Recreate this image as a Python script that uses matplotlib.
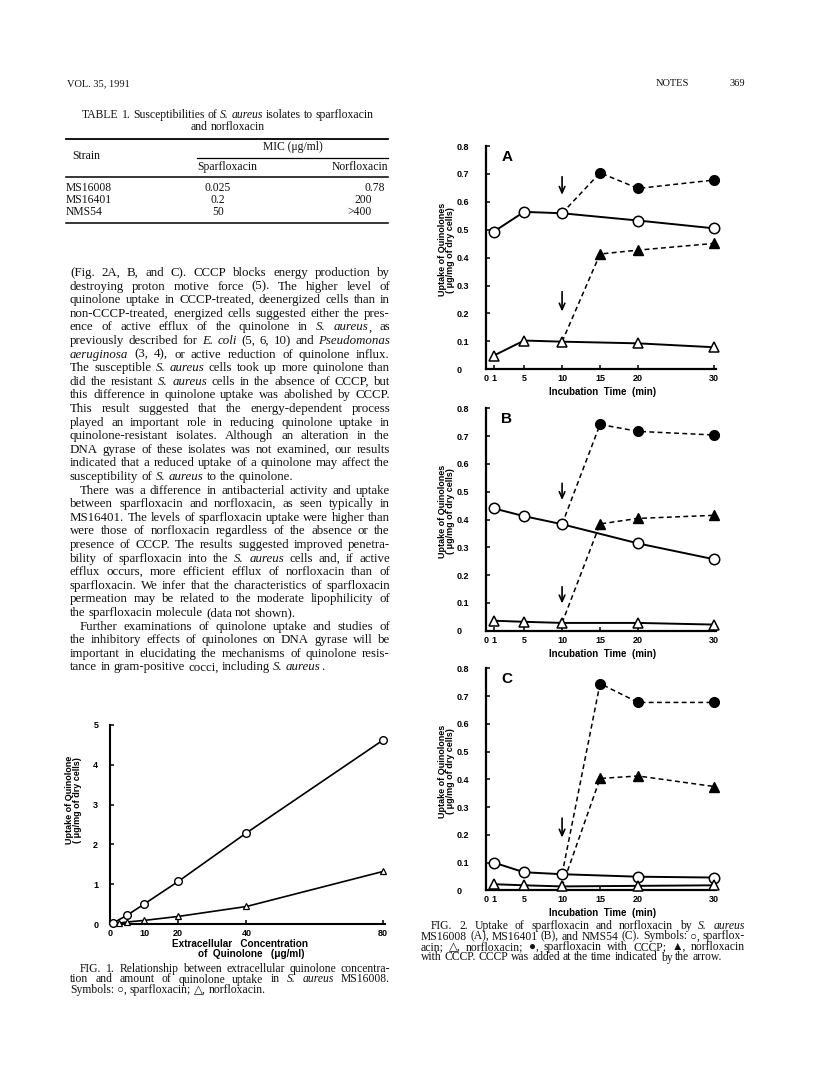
import matplotlib
matplotlib.use('Agg')
import matplotlib.pyplot as plt
from matplotlib.lines import Line2D

# ------------------------------------------------------------------ data
fig1_spar_x = [1, 5, 10, 20, 40, 80]
fig1_spar_y = [0.03, 0.22, 0.50, 1.07, 2.29, 4.62]
fig1_norf_x = [2.5, 5, 10, 20, 40, 80]
fig1_norf_y = [0.02, 0.05, 0.09, 0.19, 0.44, 1.32]
fig1_xticks = [0, 10, 20, 40, 80]
fig1_yticks = [0, 1, 2, 3, 4, 5]

time_min = [1, 5, 10, 20, 30]
cccp_time = [10, 15, 20, 30]
fig2_xticks = [0, 1, 5, 10, 15, 20, 30]
fig2_yticks = [0, 0.1, 0.2, 0.3, 0.4, 0.5, 0.6, 0.7, 0.8]
fig2_yticklabels = ['0', '0.1', '0.2', '0.3', '0.4', '0.5', '0.6', '0.7', '0.8']

A_spar = [0.493, 0.564, 0.559, 0.533, 0.505]
A_norf = [0.049, 0.103, 0.099, 0.093, 0.079]
A_spar_cccp = [0.559, 0.704, 0.648, 0.678]
A_norf_cccp = [0.099, 0.413, 0.427, 0.451]
A_arrows = [(0.69, 0.625), (0.278, 0.207)]

B_spar = [0.440, 0.412, 0.383, 0.314, 0.257]
B_norf = [0.036, 0.032, 0.028, 0.028, 0.022]
B_spar_cccp = [0.383, 0.742, 0.717, 0.704]
B_norf_cccp = [0.028, 0.384, 0.404, 0.415]
B_arrows = [(0.53, 0.47), (0.158, 0.098)]

C_spar = [0.100, 0.065, 0.058, 0.049, 0.046]
C_norf = [0.022, 0.018, 0.014, 0.016, 0.018]
C_spar_cccp = [0.058, 0.745, 0.677, 0.677]
C_norf_cccp = [0.014, 0.403, 0.412, 0.374]
C_arrows = [(0.26, 0.19)]

strains = ['MS16008', 'MS16401', 'NMS54']
mic_spar = ['0.025', '0.2', '50']
mic_norf = ['0.78', '200', '>400']

table_title = [
    "TABLE 1. Susceptibilities of _S._ _aureus_ isolates to sparfloxacin",
    "and norfloxacin",
]

body_lines = [
    "(Fig. 2A, B, and C). CCCP blocks energy production by",
    "destroying proton motive force (5). The higher level of",
    "quinolone uptake in CCCP-treated, deenergized cells than in",
    "non-CCCP-treated, energized cells suggested either the pres-",
    "ence of active efflux of the quinolone in _S._ _aureus_, as",
    "previously described for _E._ _coli_ (5, 6, 10) and _Pseudomonas_",
    "_aeruginosa_ (3, 4), or active reduction of quinolone influx.",
    "The susceptible _S._ _aureus_ cells took up more quinolone than",
    "did the resistant _S._ _aureus_ cells in the absence of CCCP, but",
    "this difference in quinolone uptake was abolished by CCCP.",
    "This result suggested that the energy-dependent process",
    "played an important role in reducing quinolone uptake in",
    "quinolone-resistant isolates. Although an alteration in the",
    "DNA gyrase of these isolates was not examined, our results",
    "indicated that a reduced uptake of a quinolone may affect the",
    "susceptibility of _S._ _aureus_ to the quinolone.",
    "There was a difference in antibacterial activity and uptake",
    "between sparfloxacin and norfloxacin, as seen typically in",
    "MS16401. The levels of sparfloxacin uptake were higher than",
    "were those of norfloxacin regardless of the absence or the",
    "presence of CCCP. The results suggested improved penetra-",
    "bility of sparfloxacin into the _S._ _aureus_ cells and, if active",
    "efflux occurs, more efficient efflux of norfloxacin than of",
    "sparfloxacin. We infer that the characteristics of sparfloxacin",
    "permeation may be related to the moderate lipophilicity of",
    "the sparfloxacin molecule (data not shown).",
    "Further examinations of quinolone uptake and studies of",
    "the inhibitory effects of quinolones on DNA gyrase will be",
    "important in elucidating the mechanisms of quinolone resis-",
    "tance in gram-positive cocci, including _S._ _aureus_.",
]
body_par_last = {15, 25, 29}
body_indent = {16, 26}

fig1_caption = [
    "FIG. 1. Relationship between extracellular quinolone concentra-",
    "tion and amount of quinolone uptake in _S._ _aureus_ MS16008.",
    "Symbols: \u25cb, sparfloxacin; \u25b3, norfloxacin.",
]
fig2_caption = [
    "FIG. 2. Uptake of sparfloxacin and norfloxacin by _S._ _aureus_",
    "MS16008 (A), MS16401 (B), and NMS54 (C). Symbols: \u25cb, sparflox-",
    "acin; \u25b3, norfloxacin; \u25cf, sparfloxacin with CCCP; \u25b2, norfloxacin",
    "with CCCP. CCCP was added at the time indicated by the arrow.",
]

# ------------------------------------------------------------------ page
W, H = 816, 1073
fig = plt.figure(figsize=(W / 100, H / 100), dpi=100)
fig.patch.set_facecolor('white')
renderer = fig.canvas.get_renderer()

SERIF = ['Liberation Serif', 'DejaVu Sans']
SANS = ['Liberation Sans', 'DejaVu Sans']
INK = '#111111'


def fx(x):
    return x / W


def fy(y):
    return 1 - y / H


def hline(x0, x1, y, lw=1.0):
    fig.add_artist(Line2D([fx(x0), fx(x1)], [fy(y), fy(y)], lw=lw,
                          color='black', transform=fig.transFigure))


def natural_width(line, size):
    t = fig.text(0, 0, line.replace('_', ''), fontsize=size, family=SERIF)
    w = t.get_window_extent(renderer).width
    t.remove()
    return w


def fit_size(lines, width):
    m = max(natural_width(l, 10) for l in lines)
    return 10 * width / m * 0.995


def make_groups(line, y, size):
    groups, widths = [], []
    for w in line.split(' '):
        ts, wsum = [], 0
        for i, s in enumerate(w.split('_')):
            if not s:
                continue
            t = fig.text(0, fy(y), s, fontsize=size, family=SERIF,
                         style='italic' if i % 2 else 'normal',
                         ha='left', va='baseline', color=INK)
            wd = t.get_window_extent(renderer).width
            ts.append((t, wd))
            wsum += wd
        groups.append(ts)
        widths.append(wsum)
    return groups, widths


def lay(groups, widths, x0, gap):
    x = x0
    for ts, wd in zip(groups, widths):
        xx = x
        for t, w in ts:
            t.set_x(fx(xx))
            xx += w
        x += wd + gap


def place_words(line, x0, x1, y, size, justify):
    groups, widths = make_groups(line, y, size)
    n = len(groups)
    gap = size * 100 / 72 * 0.25
    if justify and n > 1:
        gap = (x1 - x0 - sum(widths)) / (n - 1)
    lay(groups, widths, x0, gap)


def place_centered(line, cx, y, size):
    groups, widths = make_groups(line, y, size)
    gap = size * 100 / 72 * 0.25
    total = sum(widths) + gap * (len(groups) - 1)
    lay(groups, widths, cx - total / 2, gap)


LX0, LX1 = 70, 390
RX0, RX1 = 421, 745

# header
fig.text(fx(LX0 - 3), fy(86), "VOL. 35, 1991", fontsize=7.5, family=SERIF,
         ha='left', va='baseline', color=INK)
fig.text(fx(672), fy(86), "NOTES", fontsize=7.5, family=SERIF,
         ha='center', va='baseline', color=INK)
fig.text(fx(RX1), fy(86), "369", fontsize=7.5, family=SERIF,
         ha='right', va='baseline', color=INK)

# table 1
cap_size = fit_size(fig2_caption, RX1 - RX0)
place_centered(table_title[0], 228, 118, cap_size)
place_centered(table_title[1], 228, 130, cap_size)
hline(LX0 - 4, 388, 139, lw=1.3)
fig.text(fx(86), fy(159), "Strain", fontsize=cap_size, family=SERIF, ha='center',
         va='baseline', color=INK)
fig.text(fx(293), fy(150), "MIC (\u03bcg/ml)", fontsize=cap_size, family=SERIF,
         ha='center', va='baseline', color=INK)
hline(197, 388, 158, lw=0.9)
fig.text(fx(197), fy(170), "Sparfloxacin", fontsize=cap_size, family=SERIF, ha='left',
         va='baseline', color=INK)
fig.text(fx(388), fy(170), "Norfloxacin", fontsize=cap_size, family=SERIF, ha='right',
         va='baseline', color=INK)
hline(LX0 - 4, 388, 177, lw=1.1)
for i, (s, a, b) in enumerate(zip(strains, mic_spar, mic_norf)):
    yb = 191 + 12 * i
    fig.text(fx(LX0 - 4), fy(yb), s, fontsize=cap_size, family=SERIF, ha='left',
             va='baseline', color=INK)
    fig.text(fx(218), fy(yb), a, fontsize=cap_size, family=SERIF, ha='center',
             va='baseline', color=INK)
    fig.text(fx(385 if i == 0 else 372), fy(yb), b, fontsize=cap_size, family=SERIF,
             ha='right', va='baseline', color=INK)
hline(LX0 - 4, 388, 223, lw=1.1)

# body text
body_size = fit_size(body_lines, LX1 - LX0)
for i, line in enumerate(body_lines):
    x0 = LX0 + (10 if i in body_indent else 0)
    place_words(line, x0, LX1, 276 + 13.6 * i, body_size, i not in body_par_last)

# captions
for i, line in enumerate(fig1_caption):
    place_words(line, LX0 + (10 if i == 0 else 0), LX1, 972 + 10.5 * i, cap_size,
                i < len(fig1_caption) - 1)
for i, line in enumerate(fig2_caption):
    place_words(line, RX0 + (10 if i == 0 else 0), RX1, 929 + 10.5 * i, cap_size,
                i < len(fig2_caption) - 1)

# ------------------------------------------------------------------ figure 1
TICKFONT = dict(family=SANS, weight='bold', size=6.5)


def style_axes(ax, lw=1.5):
    for s in ['top', 'right']:
        ax.spines[s].set_visible(False)
    for s in ['left', 'bottom']:
        ax.spines[s].set_linewidth(lw)
    ax.tick_params(direction='in', length=3, width=1.1)
    ax.patch.set_alpha(0)


l1, r1, t1, b1 = 110, 384.7, 725, 924
ax1 = fig.add_axes([fx(l1), fy(b1), (r1 - l1) / W, (b1 - t1) / H])
ax1.set_xlim(0, 80.5)
ax1.set_ylim(0, 5)
style_axes(ax1)
ax1.set_xticks(fig1_xticks)
ax1.set_xticklabels([str(v) for v in fig1_xticks], **TICKFONT)
ax1.set_yticks(fig1_yticks)
ax1.set_yticklabels([str(v) for v in fig1_yticks], **TICKFONT)
ax1.tick_params(axis='x', pad=3.5)
ax1.tick_params(axis='y', pad=8.5)
ax1.plot(fig1_spar_x, fig1_spar_y, '-', color='black', lw=1.2, marker='o', ms=5.5,
         mfc='white', mec='black', mew=1.0, clip_on=False, zorder=3)
ax1.plot(fig1_norf_x, fig1_norf_y, '-', color='black', lw=1.2, marker='^', ms=4.5,
         mfc='white', mec='black', mew=0.9, clip_on=False, zorder=3)
fig.text(fx(240), fy(944), "Extracellular   Concentration", family=SANS, weight='bold',
         size=7.2, ha='center', va='center')
fig.text(fx(251), fy(954), "of  Quinolone   (\u03bcg/ml)", family=SANS, weight='bold',
         size=7.2, ha='center', va='center')
fig.text(fx(70), fy(800), "Uptake of Quinolone", family=SANS, weight='bold', size=6.5,
         rotation=90, ha='center', va='center')
fig.text(fx(77.5), fy(800), "( \u03bcg/mg of dry cells)", family=SANS, weight='bold', size=6.5,
         rotation=90, ha='center', va='center')

# ------------------------------------------------------------------ figure 2
panels = [
    ('A', 146, 369.3, A_spar, A_norf, A_spar_cccp, A_norf_cccp, A_arrows),
    ('B', 408.3, 630.7, B_spar, B_norf, B_spar_cccp, B_norf_cccp, B_arrows),
    ('C', 668.3, 890.3, C_spar, C_norf, C_spar_cccp, C_norf_cccp, C_arrows),
]
l2, r2 = 486.1, 716.3
for letter, top, bot, sp, nf, spc, nfc, arrows in panels:
    ax = fig.add_axes([fx(l2), fy(bot), (r2 - l2) / W, (bot - top) / H])
    ax.set_xlim(0, 30.3)
    ax.set_ylim(0, 0.8)
    style_axes(ax, lw=1.6)
    ax.set_xticks(fig2_xticks)
    ax.set_xticklabels([str(v) for v in fig2_xticks], **TICKFONT)
    ax.set_yticks(fig2_yticks)
    ax.set_yticklabels(fig2_yticklabels, **TICKFONT)
    for lab in ax.get_yticklabels():
        lab.set_horizontalalignment('left')
    ax.tick_params(axis='y', pad=21.5)
    ax.tick_params(axis='x', pad=3.5)
    dash = (0, (3.2, 2.2))
    ax.plot(cccp_time, spc, linestyle=dash, color='black', lw=1.1, marker='o', ms=7,
            mfc='black', mec='black', markevery=[1, 2, 3], zorder=2, clip_on=False)
    ax.plot(cccp_time, nfc, linestyle=dash, color='black', lw=1.1, marker='^', ms=7,
            mfc='black', mec='black', markevery=[1, 2, 3], zorder=2, clip_on=False)
    ax.plot(time_min, sp, '-', color='black', lw=1.4, marker='o', ms=7.5,
            mfc='white', mec='black', mew=1.1, zorder=3, clip_on=False)
    ax.plot(time_min, nf, '-', color='black', lw=1.4, marker='^', ms=7.5,
            mfc='white', mec='black', mew=1.1, zorder=3, clip_on=False)
    for y0, y1 in arrows:
        ax.annotate('', xy=(10, y1), xytext=(10, y0),
                    arrowprops=dict(arrowstyle='->,head_length=0.45,head_width=0.2',
                                    lw=1.2, color='black', shrinkA=0, shrinkB=0))
    fig.text(fx(507), fy(top + 11), letter, family=SANS, weight='bold', size=11,
             ha='center', va='center')
    cy = (top + bot) / 2 - 8
    fig.text(fx(443), fy(cy), "Uptake of Quinolones", family=SANS, weight='bold',
             size=6.5, rotation=90, ha='center', va='center')
    fig.text(fx(450.5), fy(cy), "( \u03bcg/mg of dry cells)", family=SANS, weight='bold',
             size=6.5, rotation=90, ha='center', va='center')
    fig.text(fx(603), fy(bot + 23), "Incubation  Time  (min)", family=SANS, weight='bold',
             size=7, ha='center', va='center')

fig.savefig('out.png', dpi=100, facecolor='white')
